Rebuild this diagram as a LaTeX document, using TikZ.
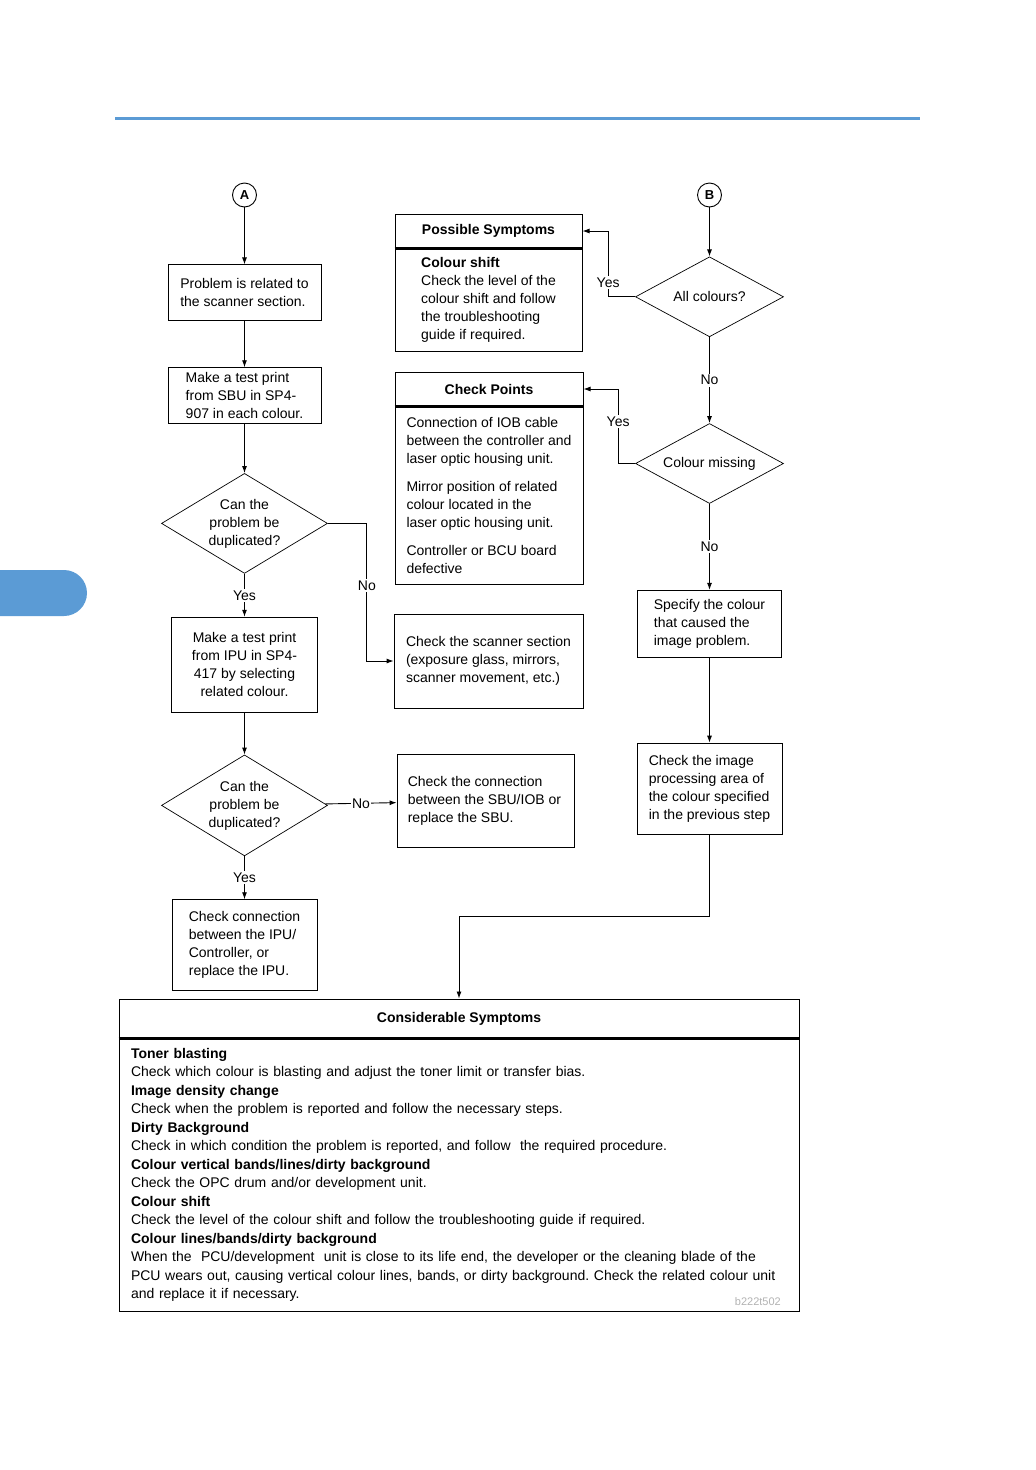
\documentclass[tikz,border=0pt]{standalone}
\usepackage{fontspec}
\setmainfont{Liberation Sans}
\usetikzlibrary{positioning,shapes.geometric,arrows.meta}
\definecolor{tabblue}{RGB}{91,155,213}
\frenchspacing

\begin{document}
\begin{tikzpicture}[x=1pt,y=-1pt,
  txt/.style={font=\fontsize{14}{18}\selectfont},
  box/.style={draw, txt, line width=0.8pt, align=left, inner sep=0pt},
  hdr/.style={draw, line width=1pt, inner sep=0pt, font=\fontsize{14}{18}\selectfont\bfseries},
  divider/.style={line width=2.2pt},
  decision/.style={draw, diamond, txt, align=center, line width=0.7pt, inner sep=0pt},
  conn/.style={circle, draw, line width=0.9pt, minimum size=24pt, inner sep=0pt, font=\fontsize{13}{13}\selectfont\bfseries},
  arr/.style={draw, line width=0.9pt, -{Latex[length=7pt,width=5pt]}},
  lbl/.style={txt, fill=white, inner sep=1.5pt}]

  \useasboundingbox (0,0) rectangle (1036,1470);

% Page decoration
  \draw[tabblue, line width=3pt] (115,118) -- (920,118);
  \fill[tabblue, rounded corners=23pt] (-40,570) rectangle (87,616);

% Nodes: left column
  \node[conn]                                                        (A) at (244.5,195) {A};
  \node[box, minimum width=153pt, minimum height=56pt, below=57pt of A]        (scanrel)  {Problem is related to\\the scanner section.};
  \node[box, minimum width=153pt, minimum height=56pt, below=46pt of scanrel]  (sbuprint) {Make a test print\\from SBU in SP4-\\907 in each colour.};
  \node[decision, minimum width=166pt, minimum height=100pt, aspect=1.66, below=49pt of sbuprint] (dupA) {Can the\\problem be\\duplicated?};
  \node[box, align=center, minimum width=146pt, minimum height=95pt, below=43pt of dupA] (ipuprint) {Make a test print\\from IPU in SP4-\\417 by selecting\\related colour.};
  \node[decision, minimum width=166pt, minimum height=101pt, aspect=1.66, below=42pt of ipuprint] (dupB) {Can the\\problem be\\duplicated?};
  \node[box, minimum width=145pt, minimum height=91pt, below=43pt of dupB]     (ipuconn)  {Check connection\\between the IPU/\\Controller, or\\replace the IPU.};

% Nodes: middle column
  \node[hdr, minimum width=187pt, minimum height=34pt] (symh) at (488.5,231) {Possible Symptoms};
  \node[box, minimum width=187pt, minimum height=102pt, below=0pt of symh]    (symb) {\textbf{Colour shift}\\Check the level of the\\colour shift and follow\\the troubleshooting\\guide if required.};
  \node[hdr, minimum width=188pt, minimum height=34pt] (cph) at (489,389) {Check Points};
  \node[box, minimum width=188pt, minimum height=177pt, below=0pt of cph]     (cpb) {Connection of IOB cable\\between the controller and\\laser optic housing unit.\\[10pt]Mirror position of related\\colour located in the\\laser optic housing unit.\\[10pt]Controller or BCU board\\defective};
  \node[box, minimum width=189pt, minimum height=94pt] (scan) at (488.5,661) {Check the scanner section\\(exposure glass, mirrors,\\scanner movement, etc.)};
  \node[box, minimum width=177pt, minimum height=93pt] (sburep) at (485.5,801) {};
  \node[txt, align=left, inner sep=0pt, right=11pt of sburep.west] (sbutxt) {Check the connection\\between the SBU/IOB or\\replace the SBU.};

% Nodes: right column
  \node[conn]                                                        (B) at (709.5,195) {B};
  \node[decision, minimum width=148pt, minimum height=80pt, aspect=1.85, below=49pt of B]       (allcol)  {All colours?};
  \node[decision, minimum width=148pt, minimum height=80pt, aspect=1.85, below=86pt of allcol]  (colmiss) {Colour missing};
  \node[box, minimum width=144pt, minimum height=67pt, below=86pt of colmiss] (spec)    {Specify the colour\\that caused the\\image problem.};
  \node[box, minimum width=145pt, minimum height=91pt, below=85pt of spec]    (imgproc) {Check the image\\processing area of\\the colour specified\\in the previous step};

% Nodes: symptom table
  \node[hdr, minimum width=680pt, minimum height=39pt] (consh) at (459,1018.5) {Considerable Symptoms};
  \node[box, minimum width=680pt, minimum height=272pt, text width=656pt, inner xsep=12pt, below=0pt of consh, font=\fontsize{14}{18.5}\selectfont] (consb)
    {\textbf{Toner blasting}\\
     Check which colour is blasting and adjust the toner limit or transfer bias.\\
     \textbf{Image density change}\\
     Check when the problem is reported and follow the necessary steps.\\
     \textbf{Dirty Background}\\
     Check in which condition the problem is reported, and follow\ \ the required procedure.\\
     \textbf{Colour vertical bands/lines/dirty background}\\
     Check the OPC drum and/or development unit.\\
     \textbf{Colour shift}\\
     Check the level of the colour shift and follow the troubleshooting guide if required.\\
     \textbf{Colour lines/bands/dirty background}\\
     When the\ \ PCU/development\ \ unit is close to its life end, the developer or the cleaning blade of the\\
     PCU wears out, causing vertical colour lines, bands, or dirty background. Check the related colour unit\\
     and replace it if necessary.};
  \node[font=\fontsize{11}{11}\selectfont, text=gray!60, anchor=south east, inner sep=0pt] (figid) at (781,1306) {b222t502};

% Dividers
  \draw[divider] (symh.south west) -- (symh.south east);
  \draw[divider] (cph.south west) -- (cph.south east);
  \draw[divider] (consh.south west) -- (consh.south east);

% Edges
  \draw[arr] (A) -- (scanrel);
  \draw[arr] (scanrel) -- (sbuprint);
  \draw[arr] (sbuprint) -- (dupA);
  \draw[arr] (dupA) -- node[lbl]{Yes} (ipuprint);
  \draw[arr] (dupA.east) -- ++(39,0) |- node[lbl, pos=0.225]{No} (scan.west);
  \draw[arr] (ipuprint) -- (dupB);
  \draw[arr] (dupB) -- node[lbl]{Yes} (ipuconn);
  \draw[arr] (dupB) -- node[lbl]{No} (sburep);
  \draw[arr] (B) -- (allcol);
  \draw[arr] (allcol.west) -- ++(-27,0) |- node[lbl, pos=0.11]{Yes} (symh.east);
  \draw[arr] (allcol) -- node[lbl]{No} (colmiss);
  \draw[arr] (colmiss.west) -- ++(-17,0) |- node[lbl, pos=0.28]{Yes} (cph.east);
  \draw[arr] (colmiss) -- node[lbl]{No} (spec);
  \draw[arr] (spec) -- (imgproc);
  \draw[arr] (imgproc.south) -- ++(0,82) -| (consh.north);

\end{tikzpicture}
\end{document}
